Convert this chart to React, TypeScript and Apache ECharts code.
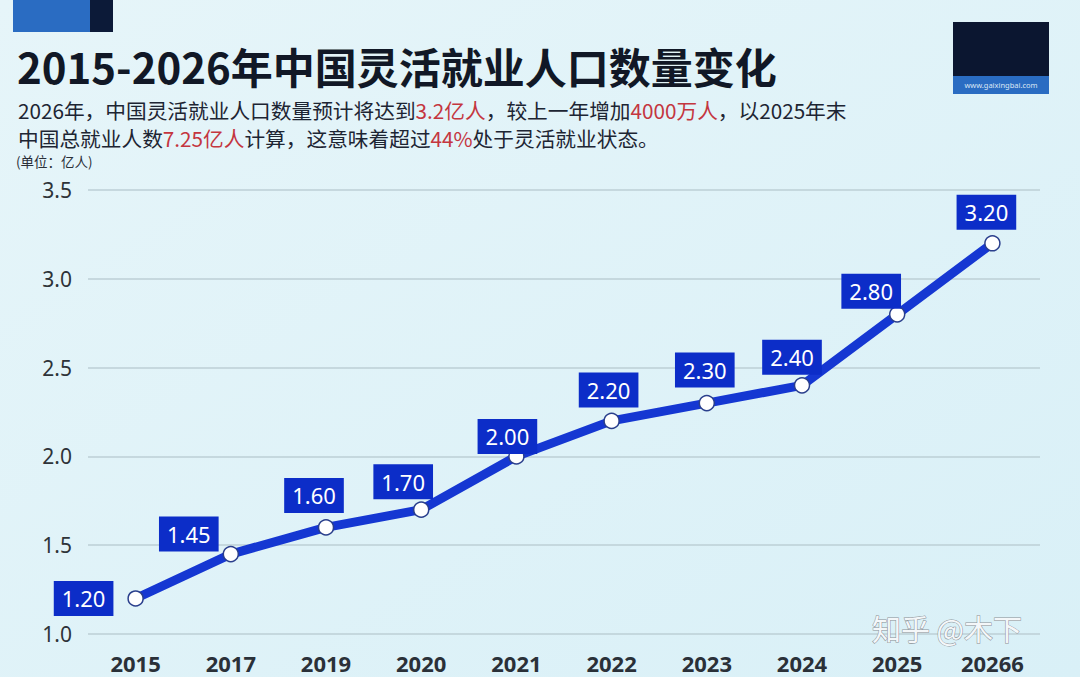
import React, { useEffect, useRef } from "react";
import * as echarts from "echarts";

const categories = ["2015", "2017", "2019", "2020", "2021", "2022", "2023", "2024", "2025", "20266"];
const values = [1.2, 1.45, 1.6, 1.7, 2.0, 2.2, 2.3, 2.4, 2.8, 3.2];
const yTicks = { min: 1, max: 3.5, interval: 0.5 };
const labelOffsets: [number, number][] = [
  [-52, 0],
  [-42, -20],
  [-12, -32],
  [-18, -28],
  [-9, -20],
  [-3, -31],
  [-2, -33],
  [-10, -28],
  [-26, -23],
  [-6, -31],
];

const titleText = "2015-2026年中国灵活就业人口数量变化";
const unitText = "(单位：亿人)";

export default function App() {
  const ref = useRef<HTMLDivElement>(null);
  useEffect(() => {
    if (!ref.current) return;
    const chart = echarts.init(ref.current, null, { renderer: "svg" });
    const cjk = "'Noto Sans CJK SC', 'Noto Sans', sans-serif";
    const blue = "#1537d2";
    const labelBg = "#0c2dc8";
    const red = "#c4363f";
    const dark = "#1d2533";

    const data = values.map((v, i) => ({
      value: v,
      label: { offset: labelOffsets[i] },
    }));

    chart.setOption({
      animation: false,
      backgroundColor: {
        type: "linear",
        x: 0,
        y: 0,
        x2: 1,
        y2: 1,
        colorStops: [
          { offset: 0, color: "#e6f5f9" },
          { offset: 1, color: "#d9f0f7" },
        ],
      },
      grid: { left: 88, right: 40, top: 190, bottom: 43, containLabel: false },
      xAxis: {
        type: "category",
        data: categories,
        boundaryGap: true,
        axisLine: { show: false },
        axisTick: { show: false },
        axisLabel: {
          color: "#2a3038",
          fontSize: 22,
          lineHeight: 22,
          fontWeight: "bold",
          fontFamily: "'Noto Sans', sans-serif",
          margin: 18,
        },
      },
      yAxis: {
        type: "value",
        min: yTicks.min,
        max: yTicks.max,
        interval: yTicks.interval,
        axisLine: { show: false },
        axisTick: { show: false },
        axisLabel: {
          color: "#2e3338",
          fontSize: 21,
          fontFamily: "'Noto Sans', sans-serif",
          margin: 16,
          formatter: (v: number) => v.toFixed(1),
        },
        splitLine: { lineStyle: { color: "#bccfd6", width: 1.5 } },
      },
      series: [
        {
          type: "line",
          data,
          symbol: "circle",
          symbolSize: 15,
          lineStyle: { color: blue, width: 9 },
          itemStyle: { color: "#ffffff", borderColor: "#2a3f8c", borderWidth: 1.5 },
          z: 3,
          label: {
            show: true,
            position: "inside",
            formatter: (p: any) => Number(p.value).toFixed(2),
            color: "#ffffff",
            fontSize: 22,
            fontFamily: "'Noto Sans', sans-serif",
            backgroundColor: labelBg,
            padding: [5, 8, 5, 8],
            lineHeight: 25,
          },
        },
      ],
      graphic: [
        { type: "rect", shape: { x: 13, y: 0, width: 77, height: 32 }, style: { fill: "#2a6cc2" } },
        { type: "rect", shape: { x: 90, y: 0, width: 23, height: 32 }, style: { fill: "#0c1a38" } },
        { type: "rect", shape: { x: 953, y: 22, width: 96, height: 54 }, style: { fill: "#0b1630" } },
        { type: "rect", shape: { x: 953, y: 76, width: 96, height: 18 }, style: { fill: "#2a6cc2" } },
        {
          type: "text",
          x: 1001,
          y: 85,
          style: {
            text: "www.gaixingbai.com",
            fill: "#dbe6f5",
            fontSize: 7.5,
            fontFamily: "'Noto Sans', sans-serif",
            align: "center",
            verticalAlign: "middle",
          },
        },
        {
          type: "text",
          x: 17,
          y: 65,
          style: {
            text: titleText,
            fill: "#111826",
            fontSize: 42,
            lineHeight: 44,
            fontWeight: "bold",
            fontFamily: cjk,
            verticalAlign: "middle",
          },
        },
        {
          type: "text",
          x: 18,
          y: 110,
          style: {
            text:
              "{a|2026年，中国灵活就业人口数量预计将达到}{r|3.2亿人}{a|，较上一年增加}{r|4000万人}{a|，以2025年末}",
            verticalAlign: "middle",
            rich: {
              a: { fill: dark, fontSize: 20.7, lineHeight: 22, fontFamily: cjk },
              r: { fill: red, fontSize: 20.7, lineHeight: 22, fontFamily: cjk },
            },
          },
        },
        {
          type: "text",
          x: 18,
          y: 138,
          style: {
            text: "{a|中国总就业人数}{r|7.25亿人}{a|计算，这意味着超过}{r|44%}{a|处于灵活就业状态。}",
            verticalAlign: "middle",
            rich: {
              a: { fill: dark, fontSize: 20.7, lineHeight: 22, fontFamily: cjk },
              r: { fill: red, fontSize: 20.7, lineHeight: 22, fontFamily: cjk },
            },
          },
        },
        {
          type: "text",
          x: 16,
          y: 161,
          style: {
            text: unitText,
            fill: "#2a2f38",
            fontSize: 13.5,
            lineHeight: 14,
            fontFamily: cjk,
            verticalAlign: "middle",
          },
        },
        {
          type: "text",
          x: 872,
          y: 628,
          z: 10,
          style: {
            text: "知乎 @木下",
            fill: "#f4f7f9",
            stroke: "#8a8f94",
            lineWidth: 1,
            fontSize: 29,
            lineHeight: 30,
            fontFamily: cjk,
            verticalAlign: "middle",
          },
        },
      ],
    });
    return () => chart.dispose();
  }, []);

  return (
    <div
      ref={ref}
      style={{ position: "absolute", left: 0, top: 0, width: 1080, height: 677 }}
    />
  );
}
